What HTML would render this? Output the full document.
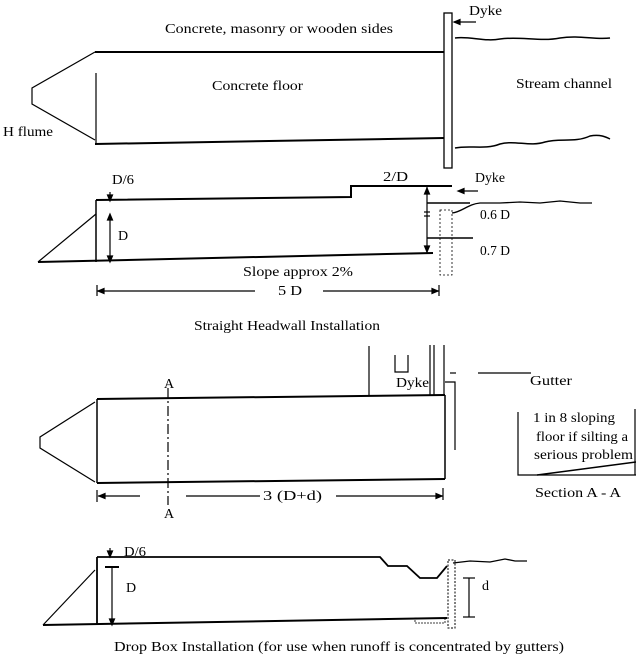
<!DOCTYPE html>
<html><head><meta charset="utf-8"><style>
html,body{margin:0;padding:0;background:#fff;}
svg{display:block;}
text{font-family:"Liberation Serif",serif;font-size:14px;fill:#000;}
</style></head><body>
<svg width="636" height="661" viewBox="0 0 636 661" xmlns="http://www.w3.org/2000/svg">
<g stroke="#000" fill="none" stroke-width="1.2">
<!-- TOP PLAN -->
<rect x="444" y="13" width="8" height="155" stroke-width="1.3"/>
<line x1="476" y1="22" x2="454" y2="22"/><polygon points="454,22 460,19.5 460,24.5" fill="#000"/>
<line x1="95" y1="52" x2="444" y2="52" stroke-width="2"/>
<line x1="95" y1="144" x2="444" y2="138" stroke-width="2"/>
<line x1="96" y1="73" x2="96" y2="143"/>
<polyline points="95,52 32,88 32,104 95,140"/>
<path d="M455,38 C470,36 485,42 500,39 C520,36 540,42 560,38 C580,35 595,40 610,38" stroke-width="1.5"/>
<path d="M455,148 C470,145 485,150 500,144 C515,140 530,147 545,142 C560,138 575,143 590,136 C600,134 606,137 610,139" stroke-width="1.5"/>
<!-- SECTION 1 -->
<polyline points="96,200 351,197 351,186 452,186" stroke-width="2"/>
<line x1="96" y1="200" x2="96" y2="262" stroke-width="1.5"/>
<line x1="38" y1="262" x2="96" y2="214"/>
<line x1="38" y1="262" x2="433" y2="253" stroke-width="2"/>
<line x1="110" y1="192" x2="110" y2="200"/><polygon points="110,201 107.5,195 112.5,195" fill="#000"/>
<line x1="110" y1="216" x2="110" y2="262"/><polygon points="110,214 107.5,220 112.5,220" fill="#000"/><polygon points="110,262 107.5,256 112.5,256" fill="#000"/>
<line x1="427" y1="186" x2="427" y2="253"/>
<polygon points="427,188 424.5,194 429.5,194" fill="#000"/><polygon points="427,252 424.5,246 429.5,246" fill="#000"/>
<line x1="424" y1="212" x2="430" y2="212"/><line x1="424" y1="216" x2="430" y2="216"/>
<line x1="427" y1="203" x2="470" y2="203" stroke-width="1.5"/>
<line x1="427" y1="238" x2="473" y2="238" stroke-width="1.5"/>
<rect x="440" y="210" width="12" height="65" stroke-width="0.8" stroke-dasharray="2,2"/>
<path d="M452,213 C462,212 468,204 480,203 L500,203 L520,202 L540,203 L560,201 L580,203 L592,203" stroke-width="1.3"/>
<line x1="478" y1="191" x2="459" y2="191"/><polygon points="458,191 464,188.5 464,193.5" fill="#000"/>
<line x1="97" y1="285" x2="97" y2="296"/><line x1="439" y1="285" x2="439" y2="296"/>
<line x1="97" y1="291" x2="255" y2="291"/><line x1="323" y1="291" x2="439" y2="291"/>
<polygon points="98,291 104,288.5 104,293.5" fill="#000"/><polygon points="438,291 432,288.5 432,293.5" fill="#000"/>
<!-- SECTION 2 PLAN -->
<line x1="97" y1="399" x2="445" y2="395" stroke-width="2"/>
<line x1="97" y1="483" x2="445" y2="479" stroke-width="2"/>
<line x1="97" y1="399" x2="97" y2="483" stroke-width="1.5"/>
<line x1="445" y1="395" x2="445" y2="479" stroke-width="1.5"/>
<polyline points="95,402 40,437 40,448 95,482"/>
<line x1="168" y1="388" x2="168" y2="505" stroke-dasharray="10,3,2,3"/>
<line x1="369" y1="346" x2="369" y2="395"/>
<polyline points="395,355 395,372 408,372 408,355"/>
<line x1="430" y1="345" x2="430" y2="395"/><line x1="434" y1="345" x2="434" y2="395"/>
<line x1="444" y1="345" x2="444" y2="395"/>
<polyline points="445,382 455,382 455,450"/>
<line x1="450" y1="373" x2="456" y2="373"/>
<line x1="478" y1="373" x2="531" y2="373"/>
<polyline points="518,412 518,475 636,475"/>
<line x1="635" y1="409" x2="635" y2="475"/>
<line x1="537" y1="475" x2="636" y2="462" stroke-width="1.5"/>
<line x1="97" y1="490" x2="97" y2="502"/><line x1="443" y1="488" x2="443" y2="500"/>
<line x1="98" y1="496" x2="140" y2="496"/><line x1="186" y1="496" x2="260" y2="496"/><line x1="336" y1="496" x2="443" y2="496"/>
<polygon points="99,496 105,493.5 105,498.5" fill="#000"/><polygon points="442,496 436,493.5 436,498.5" fill="#000"/>
<!-- SECTION 3 -->
<polyline points="97,557 380,557 388,566 407,566 420,578 437,578 447,566" stroke-width="1.8"/>
<path d="M453,563 L470,561 L490,562 L505,559 L515,561 L527,561" stroke-width="1.3"/>
<line x1="97" y1="557" x2="97" y2="625" stroke-width="1.8"/>
<line x1="43" y1="625" x2="95" y2="570"/>
<line x1="43" y1="625" x2="447" y2="618" stroke-width="2"/>
<rect x="415" y="618" width="30" height="5" stroke-width="0.8" stroke-dasharray="2,1"/>
<rect x="448" y="560" width="7" height="68" stroke-width="1" stroke-dasharray="2,1.5"/>
<line x1="105" y1="567" x2="119" y2="567" stroke-width="2"/>
<line x1="112" y1="567" x2="112" y2="625"/><polygon points="112,625 109.5,619 114.5,619" fill="#000"/>
<line x1="110" y1="548" x2="110" y2="556"/><polygon points="110,557 107.5,551 112.5,551" fill="#000"/>
<line x1="463" y1="578" x2="475" y2="578"/><line x1="463" y1="617" x2="475" y2="617"/>
<line x1="469" y1="578" x2="469" y2="617"/>
</g>
<!-- TEXT -->
<text x="469" y="15" textLength="33" lengthAdjust="spacingAndGlyphs">Dyke</text>
<text x="165" y="33" textLength="228" lengthAdjust="spacingAndGlyphs">Concrete, masonry or wooden sides</text>
<text x="212" y="90" textLength="91" lengthAdjust="spacingAndGlyphs">Concrete floor</text>
<text x="516" y="88" textLength="96" lengthAdjust="spacingAndGlyphs">Stream channel</text>
<text x="3" y="136" textLength="50" lengthAdjust="spacingAndGlyphs">H flume</text>
<text x="112" y="184" textLength="22" lengthAdjust="spacingAndGlyphs">D/6</text>
<text x="383" y="181" textLength="25" lengthAdjust="spacingAndGlyphs">2/D</text>
<text x="475" y="182" textLength="30" lengthAdjust="spacingAndGlyphs">Dyke</text>
<text x="118" y="240">D</text>
<text x="480" y="219" textLength="30" lengthAdjust="spacingAndGlyphs">0.6 D</text>
<text x="480" y="255" textLength="30" lengthAdjust="spacingAndGlyphs">0.7 D</text>
<text x="243" y="276" textLength="110" lengthAdjust="spacingAndGlyphs">Slope approx 2%</text>
<text x="278" y="295" textLength="24" lengthAdjust="spacingAndGlyphs">5 D</text>
<text x="194" y="330" textLength="186" lengthAdjust="spacingAndGlyphs">Straight Headwall Installation</text>
<text x="164" y="388">A</text>
<text x="164" y="518">A</text>
<text x="396" y="387" textLength="33" lengthAdjust="spacingAndGlyphs">Dyke</text>
<text x="530" y="385" textLength="42" lengthAdjust="spacingAndGlyphs">Gutter</text>
<text x="533" y="422" textLength="82" lengthAdjust="spacingAndGlyphs">1 in 8 sloping</text>
<text x="536" y="441" textLength="92" lengthAdjust="spacingAndGlyphs">floor if silting a</text>
<text x="534" y="459" textLength="99" lengthAdjust="spacingAndGlyphs">serious problem</text>
<text x="535" y="497" textLength="86" lengthAdjust="spacingAndGlyphs">Section A - A</text>
<text x="263" y="500" textLength="59" lengthAdjust="spacingAndGlyphs">3 (D+d)</text>
<text x="124" y="556" textLength="22" lengthAdjust="spacingAndGlyphs">D/6</text>
<text x="126" y="592">D</text>
<text x="482" y="590">d</text>
<text x="114" y="651" textLength="450" lengthAdjust="spacingAndGlyphs">Drop Box Installation  (for use when runoff is concentrated by gutters)</text>
</svg>
</body></html>
